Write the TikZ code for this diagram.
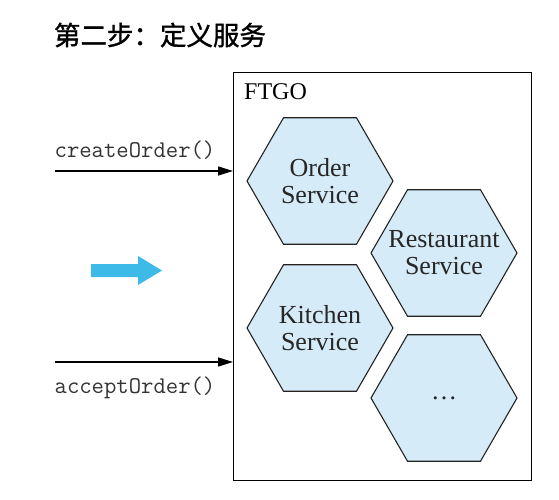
\documentclass[tikz,border=0pt]{standalone}
\usepackage{fontspec}
\newfontfamily\svcfont{Liberation Serif}
\newfontfamily\cjk[FakeBold=1.2]{Noto Sans CJK SC}
\usetikzlibrary{shapes.geometric,arrows.meta}

\definecolor{hexfill}{RGB}{213,235,248}
\definecolor{hexline}{RGB}{35,35,35}
\definecolor{stepblue}{RGB}{62,186,232}

\tikzset{
    svc/.style={regular polygon, regular polygon sides=6, minimum size=146pt,
        inner sep=0pt, draw=hexline, line width=1.1pt, fill=hexfill},
    svctext/.style={align=center, inner sep=0pt, text=black!85,
        font=\svcfont\fontsize{26}{27}\selectfont},
    call/.style={-{Stealth[length=15pt,width=9pt,inset=0pt]}, line width=1.4pt},
    calltext/.style={text=black!80, font=\ttfamily\fontsize{24}{26}\selectfont}
}

\begin{document}
\begin{tikzpicture}[x=1pt,y=-1pt]
\useasboundingbox (0,0) rectangle (559,500);
\begin{scope}
    % Title
    \node[font=\cjk\fontsize{26.5}{30}\selectfont] (title) at (160,35) {第二步：定义服务};

    % Define nodes
    \node[draw, line width=1.3pt, minimum width=298pt, minimum height=408pt,
        inner sep=0pt, anchor=north west] (ftgo) at (233,72) {};
    \node[anchor=north west, inner sep=0pt, font=\svcfont\fontsize{24}{25}\selectfont]
        (ftgolbl) at (244,83) {FTGO};

    \node[svc, label={[svctext]center:{Order\\Service}}] (order) at (320,181) {};
    \node[svc, label={[svctext]center:{Kitchen\\Service}}] (kitchen) at (320,328) {};
    \node[svc, label={[svctext]center:{Restaurant\\Service}}] (restaurant) at (444,253) {};
    \node[svc, label={[svctext]center:{\ldots}}] (more) at (444,398) {};

    \coordinate (createIn) at (55,171);
    \coordinate (acceptIn) at (55,362);
    \node[calltext] (createlbl) at (135,150) {createOrder()};
    \node[calltext] (acceptlbl) at (135,388) {acceptOrder()};

    % Calls into FTGO
    \draw[call] (createIn) -- (createIn -| ftgo.west);
    \draw[call] (acceptIn) -- (acceptIn -| ftgo.west);

    % Step arrow
    \fill[stepblue] (91,264) -- (138,264) -- (138,256) -- (162,270.5)
        -- (138,285) -- (138,277) -- (91,277) -- cycle;
\end{scope}
\end{tikzpicture}
\end{document}
